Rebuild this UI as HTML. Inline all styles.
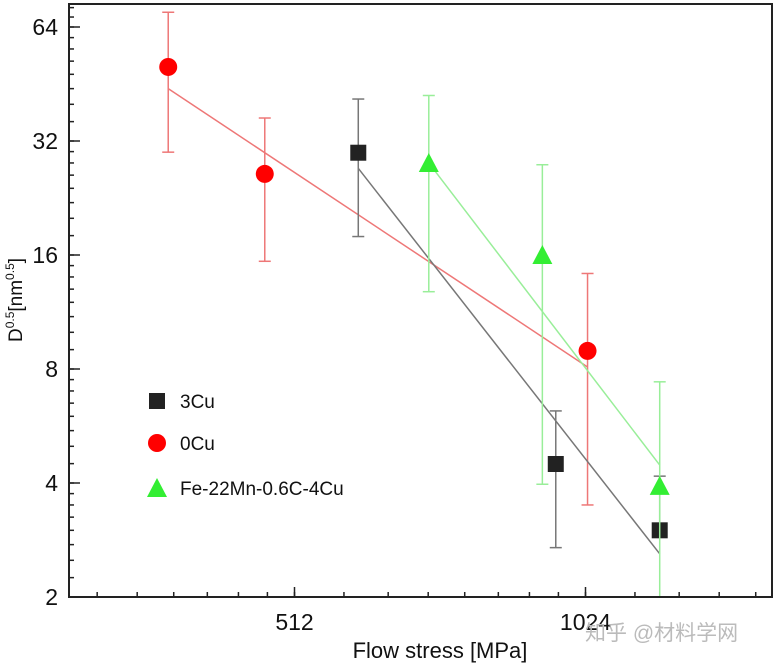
<!DOCTYPE html>
<html><head><meta charset="utf-8"><style>
body{margin:0;background:#fff;}
svg{display:block;font-family:"Liberation Sans",Arial,sans-serif;}
</style></head><body>
<svg id="chart" width="774" height="666" viewBox="0 0 774 666">
<defs><clipPath id="clip"><rect x="69" y="4" width="703" height="593"/></clipPath></defs>
<g id="plot" clip-path="url(#clip)"></g>
<g id="axes"></g>
<text x="440" y="658" font-size="22" text-anchor="middle" fill="#111">Flow stress [MPa]</text>
<text transform="translate(22,300) rotate(-90)" font-size="19" text-anchor="middle" fill="#111">D<tspan font-size="12" dy="-8">0.5</tspan><tspan dy="8">[nm</tspan><tspan font-size="12" dy="-8">0.5</tspan><tspan dy="8">]</tspan></text>
<g>
<rect x="149" y="393" width="16" height="16" fill="#222"/>
<text x="180" y="408" font-size="19" fill="#111">3Cu</text>
<circle cx="157" cy="443" r="9" fill="#f00"/>
<text x="180" y="450" font-size="19" fill="#111">0Cu</text>
<polygon points="157,478 167,497 147,497" fill="#33ee33"/>
<text x="180" y="495" font-size="19" fill="#111">Fe-22Mn-0.6C-4Cu</text>
</g>
<text x="585" y="640" font-size="21" fill="#bbb" font-family="'Liberation Sans','Noto Sans CJK SC',sans-serif">知乎 @材料学网</text>
</svg>
<script>
const xTickValues=[512,1024];
const yTickValues=[2,4,8,16,32,64];
const cu0X=[379,477,1029];
const cu0Y=[50.2,26.2,8.93];
const cu0Hi=[70,36.8,14.3];
const cu0Lo=[29.9,15.4,3.5];
const cu0Fit=[[379,44],[1029,8.1]];
const cu3X=[596,954,1222];
const cu3Y=[29.8,4.49,3.0];
const cu3Hi=[41.3,6.2,4.17];
const cu3Lo=[17.9,2.7,3.0];
const cu3Fit=[[596,27.1],[1222,2.6]];
const cu4X=[705,924,1222];
const cu4Y=[28,16,3.93];
const cu4Hi=[42.2,27.7,7.4];
const cu4Lo=[12.8,3.97,1.5];
const cu4Fit=[[705,28],[1222,4.46]];

const sx=v=>294.5+291*Math.log2(v/512);
const sy=v=>597-114*(Math.log2(v)-1);
const NS='http://www.w3.org/2000/svg';
function mk(tag,attrs,parent){const e=document.createElementNS(NS,tag);for(const k in attrs)e.setAttribute(k,attrs[k]);parent.appendChild(e);return e;}
const plot=document.getElementById('plot'),axes=document.getElementById('axes');

function series(X,Y,Hi,Lo,fit,col,lineCol,shape,name){
  const l=mk('line',{x1:sx(fit[0][0]),y1:sy(fit[0][1]),x2:sx(fit[1][0]),y2:sy(fit[1][1]),stroke:lineCol,'stroke-width':1.5},plot);
  
  
  X.forEach((x,i)=>{
    const px=sx(x);
    const g=mk('g',{stroke:lineCol,'stroke-width':1.5},plot);
    
    
    mk('line',{x1:px,y1:sy(Hi[i]),x2:px,y2:sy(Lo[i])},g);
    mk('line',{x1:px-6,y1:sy(Hi[i]),x2:px+6,y2:sy(Hi[i])},g);
    mk('line',{x1:px-6,y1:sy(Lo[i]),x2:px+6,y2:sy(Lo[i])},g);
    const py=sy(Y[i]);let m;
    if(shape==='sq')m=mk('rect',{x:px-8,y:py-8,width:16,height:16,fill:col},plot);
    else if(shape==='ci')m=mk('circle',{cx:px,cy:py,r:9,fill:col},plot);
    else m=mk('polygon',{points:`${px},${py-10} ${px+10},${py+9} ${px-10},${py+9}`,fill:col},plot);
    
    
  });
}
series(cu0X,cu0Y,cu0Hi,cu0Lo,cu0Fit,'#f00','#e77','ci','0cu');
series(cu3X,cu3Y,cu3Hi,cu3Lo,cu3Fit,'#222','#777','sq','3cu');
series(cu4X,cu4Y,cu4Hi,cu4Lo,cu4Fit,'#33ee33','#9e9','tr','4cu');

const fr=mk('rect',{x:69,y:4,width:703,height:593,fill:'none',stroke:'#222','stroke-width':2},axes);


for(let v=288;v<=1600;v+=(v<512?32:(v<1024?64:128))){const x=sx(v);if(x<70||x>771)continue;mk('line',{x1:x,y1:597,x2:x,y2:592,stroke:'#222','stroke-width':1.5},axes);}
for(let v=2;v<=72;v+=(v<4?0.25:v<8?0.5:v<16?1:v<32?2:4)){const y=sy(v);if(y<5)continue;mk('line',{x1:69,y1:y,x2:74,y2:y,stroke:'#222','stroke-width':1.5},axes);}
xTickValues.forEach(v=>{const x=sx(v);mk('line',{x1:x,y1:597,x2:x,y2:587,stroke:'#222','stroke-width':1.5},axes);
  const t=mk('text',{x:x,y:630,'font-size':23,'text-anchor':'middle',fill:'#111'},axes);t.textContent=v;
  
  });
yTickValues.forEach(v=>{const y=sy(v);mk('line',{x1:69,y1:y,x2:80,y2:y,stroke:'#222','stroke-width':1.5},axes);
  const t=mk('text',{x:58,y:y+8,'font-size':23,'text-anchor':'end',fill:'#111'},axes);t.textContent=v;
  
  });
</script>
</body></html>
